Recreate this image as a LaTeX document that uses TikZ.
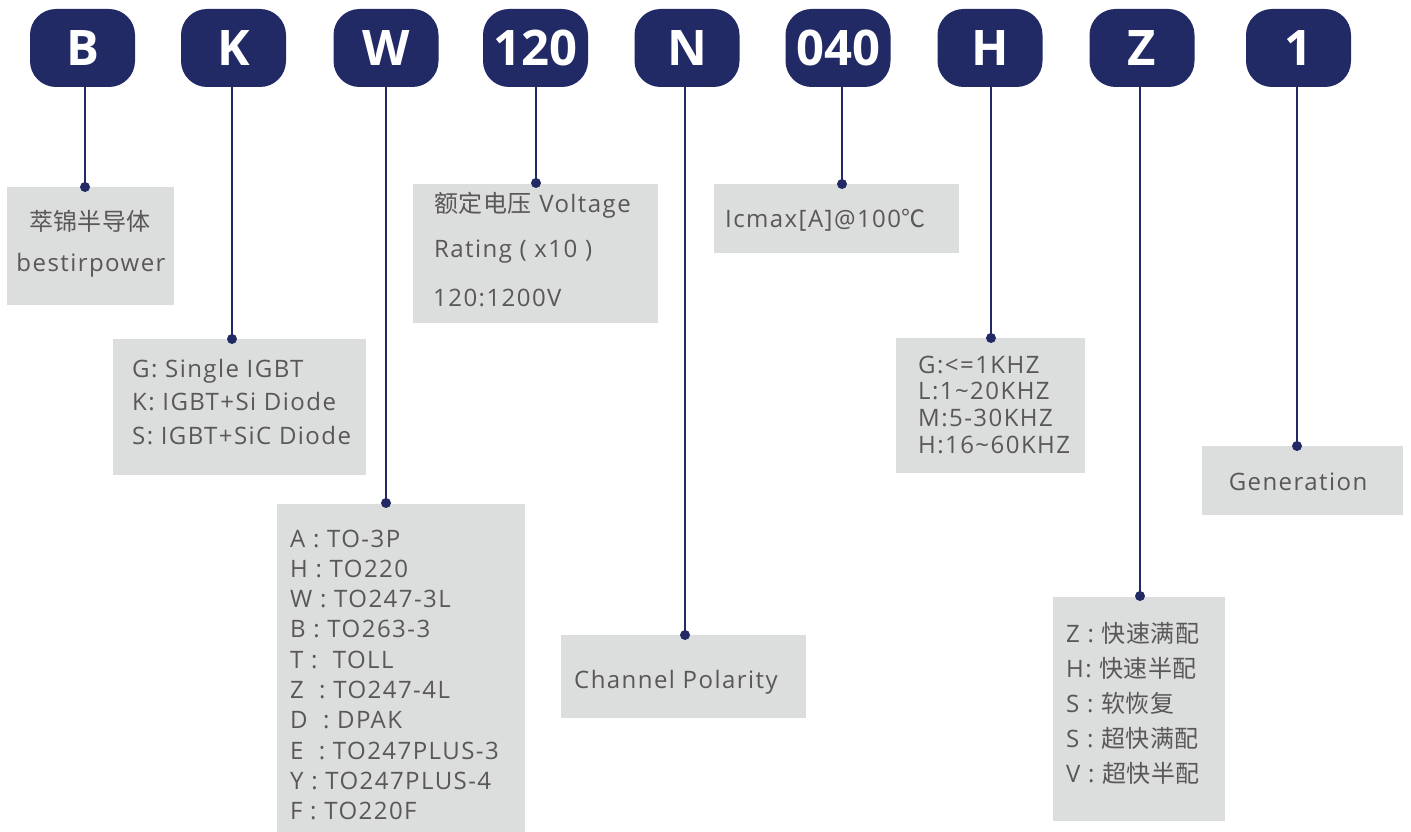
\documentclass[tikz,border=0pt]{standalone}
\usepackage{fontspec}
\setmainfont{Open Sans}[LetterSpace=6]
\newfontfamily\cjk{Noto Sans CJK SC}[LetterSpace=2]
\newfontfamily\badgefont{Open Sans}
\usepackage{tikz}
\definecolor{navy}{HTML}{222A66}
\definecolor{boxgray}{HTML}{DCDDDD}
\definecolor{textgray}{HTML}{595757}
\tikzset{
code_badge/.style={rectangle, rounded corners=26pt, fill=navy, text=white, minimum width=105pt, minimum height=78pt, inner sep=0pt, font=\badgefont\bfseries\fontsize{49}{49}\selectfont},
info_box/.style={rectangle, fill=boxgray, inner sep=0pt, anchor=north west},
info_line/.style={anchor=base west, inner sep=0pt, text=textgray, font=\fontsize{24}{24}\selectfont},
leader/.style={draw=navy, line width=2pt},
leader_dot/.style={fill=navy}
}

\begin{document}
\begin{tikzpicture}[x=1pt, y=-1pt]
    \useasboundingbox (0,0) rectangle (1411,832);
    \foreach \lbl/\xx in {B/82.5, K/233.5, W/386, 120/535.5, N/687, 040/838, H/990, Z/1142, 1/1298.5}
        \node[code_badge] (badge_\lbl) at (\xx,48) {\lbl};

    \node[info_box, minimum width=167pt, minimum height=118pt] (box_B) at (7,187) {};
    \node[info_box, minimum width=253pt, minimum height=136pt] (box_K) at (113,339) {};
    \node[info_box, minimum width=248pt, minimum height=330pt] (box_W) at (277,504) {};
    \node[info_box, minimum width=245pt, minimum height=139pt] (box_120) at (413,184) {};
    \node[info_box, minimum width=245pt, minimum height=83pt] (box_N) at (561,635) {};
    \node[info_box, minimum width=245pt, minimum height=69pt] (box_040) at (714,184) {};
    \node[info_box, minimum width=189pt, minimum height=135pt] (box_H) at (896,338) {};
    \node[info_box, minimum width=172pt, minimum height=224pt] (box_Z) at (1053,597) {};
    \node[info_box, minimum width=201pt, minimum height=69pt] (box_1) at (1202,446) {};

    \coordinate (dot_B) at (85,187);
    \coordinate (dot_K) at (232,339);
    \coordinate (dot_W) at (386,503);
    \coordinate (dot_120) at (536,183);
    \coordinate (dot_N) at (685,635);
    \coordinate (dot_040) at (842,184);
    \coordinate (dot_H) at (991,338);
    \coordinate (dot_Z) at (1140,596);
    \coordinate (dot_1) at (1297,446);
    \foreach \lbl in {B, K, W, 120, N, 040, H, Z, 1} {
        \draw[leader] (badge_\lbl.south -| dot_\lbl) -- (dot_\lbl);
        \fill[leader_dot] (dot_\lbl) circle (5pt);
    }

    \node[info_line, anchor=base] (t_B_1) at (90,230) {\cjk 萃锦半导体};
    \node[info_line, anchor=base] (t_B_2) at (91,271) {bestirpower};

    \node[info_line] (t_K_1) at (132,377) {G: Single IGBT};
    \node[info_line] (t_K_2) at (132,410.5) {K: IGBT+Si Diode};
    \node[info_line] (t_K_3) at (132,444) {S: IGBT+SiC Diode};

    \foreach \txt [count=\i] in {A : TO-3P, H : TO220, W : TO247-3L, B : TO263-3, T :\ \ TOLL, Z\ \ : TO247-4L, D\ \ : DPAK, E\ \ : TO247PLUS-3, Y : TO247PLUS-4, F : TO220F}
        \node[info_line] (t_W_\i) at (290,{516.7+30.3*\i}) {\txt};

    \node[info_line] (t_120_1) at (434,212) {{\cjk 额定电压} Voltage};
    \node[info_line] (t_120_2) at (434,257) {Rating ( x10 )};
    \node[info_line] (t_120_3) at (433,306) {120:1200V};

    \node[info_line] (t_N) at (574,688) {Channel Polarity};

    \node[info_line] (t_040) at (725,227) {Icmax[A]@100{\cjk ℃}};

    \node[info_line] (t_H_1) at (918,373) {G:<=1KHZ};
    \node[info_line] (t_H_2) at (918,399.7) {L:1\textasciitilde20KHZ};
    \node[info_line] (t_H_3) at (918,426.3) {M:5-30KHZ};
    \node[info_line] (t_H_4) at (918,453) {H:16\textasciitilde60KHZ};

    \foreach \txt [count=\i] in {Z : {\cjk 快速满配}, H: {\cjk 快速半配}, S : {\cjk 软恢复}, S : {\cjk 超快满配}, V : {\cjk 超快半配}}
        \node[info_line] (t_Z_\i) at (1066,{607+35*\i}) {\txt};

    \node[info_line, anchor=base] (t_1) at (1298,490) {Generation};
\end{tikzpicture}
\end{document}
